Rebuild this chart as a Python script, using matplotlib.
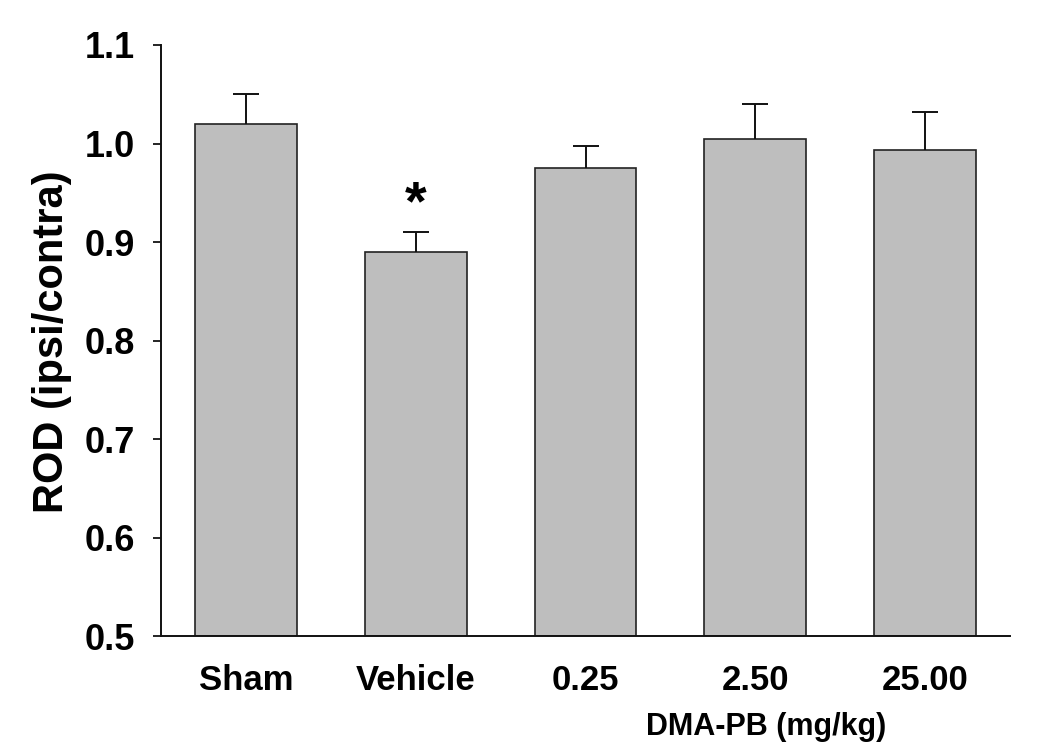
import matplotlib
matplotlib.use("Agg")
import matplotlib.pyplot as plt

categories = ["Sham", "Vehicle", "0.25", "2.50", "25.00"]
means = [1.020, 0.890, 0.975, 1.005, 0.993]
errors = [0.030, 0.020, 0.022, 0.035, 0.039]
yticks = [0.5, 0.6, 0.7, 0.8, 0.9, 1.0, 1.1]

plt.rcParams['font.family'] = ['Liberation Sans', 'DejaVu Sans']
plt.rcParams['font.weight'] = 'bold'

fig = plt.figure(figsize=(10.5, 7.49), dpi=100)
ax = fig.add_axes([161/1050, (749-636)/749, (1010-161)/1050, (636-45)/749])

x = list(range(len(categories)))
ax.bar(x, [m - 0.5 for m in means], bottom=0.5, width=0.6, color='#bebebe',
       edgecolor='#222222', linewidth=1.2, zorder=2)
eb = ax.errorbar(x, means, yerr=[[0]*len(errors), errors], fmt='none', ecolor='#111111',
                 elinewidth=1.4, capsize=9.5, capthick=1.4, zorder=3)
caplines = eb[1]
if len(caplines) == 2:
    caplines[0].set_visible(False)

ax.text(1, 0.923, '*', ha='center', va='baseline', fontsize=40, fontweight='bold')

ax.set_xlim(-0.5, 4.5)
ax.set_ylim(0.5, 1.1)
ax.set_yticks(yticks)
ax.set_yticklabels([f"{t:.1f}" for t in yticks], fontsize=26, fontweight='bold')
ax.set_xticks(x)
ax.set_xticklabels(categories, fontsize=25, fontweight='bold')
ax.tick_params(axis='x', length=0, pad=20)
ax.tick_params(axis='y', length=6, width=1.2, pad=13, direction='out')

for s in ['top', 'right']:
    ax.spines[s].set_visible(False)
for s in ['left', 'bottom']:
    ax.spines[s].set_linewidth(1.4)
    ax.spines[s].set_color('#111111')

fig.text(52/1050, 1 - 342/749, "ROD (ipsi/contra)", rotation=90, ha='center', va='center',
         fontsize=30, fontweight='bold')
fig.text(766/1050, 1 - 727/749, "DMA-PB (mg/kg)", ha='center', va='center',
         fontsize=22, fontweight='bold')

fig.savefig("out.png", dpi=100)
